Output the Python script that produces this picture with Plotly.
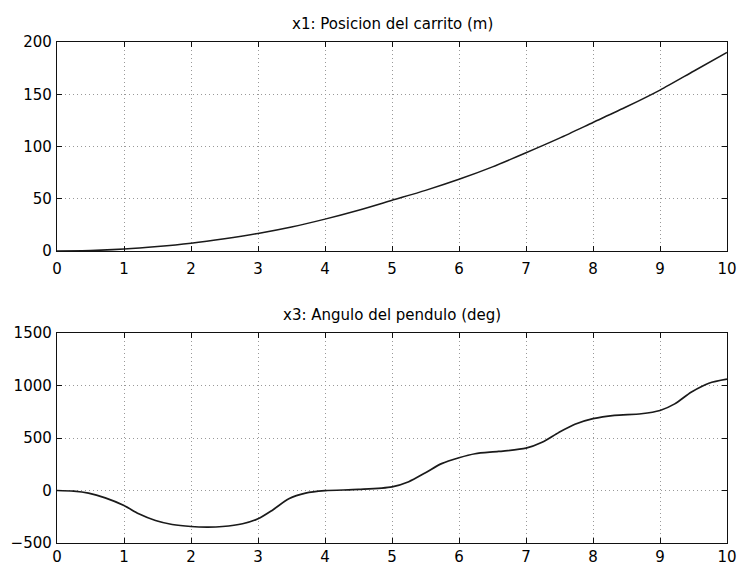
import plotly.graph_objects as go

# Cart position x1 (m) over time (s)
t_pos = [0, 0.5, 1, 1.5, 2, 2.5, 3, 3.5, 4, 4.5, 5, 5.5, 6, 6.5, 7, 7.5, 8, 8.5, 9, 9.5, 10]
x1_pos = [0, 0.4, 1.8, 4.2, 7.4, 11.7, 16.8, 23, 30.5, 39, 48.5, 58, 68.6, 80.5, 94,
          108, 123, 138, 154, 172, 190]

# Pendulum angle x3 (deg) over time (s)
t_ang = [0, 0.25, 0.47, 0.72, 1, 1.22, 1.47, 1.72, 2, 2.25, 2.47, 2.77, 3, 3.21, 3.46,
         3.71, 4, 4.5, 5, 5.25, 5.5, 5.74, 6, 6.24, 6.59, 7, 7.24, 7.49, 7.73, 8, 8.32,
         8.72, 9, 9.22, 9.47, 9.73, 10]
x3_ang = [0, -6, -25, -70, -143, -222, -286, -324, -343, -348, -343, -317, -270, -190,
          -79, -25, -2, 10, 35, 84, 169, 256, 312, 350, 372, 403, 459, 553, 631, 684,
          716, 731, 762, 825, 938, 1022, 1060]

titles = ["x1: Posicion del carrito (m)", "x3: Angulo del pendulo (deg)"]
x_ticks = list(range(0, 11))
y1_ticks = [0, 50, 100, 150, 200]
y3_ticks = [-500, 0, 500, 1000, 1500]

W, H = 739, 566
FONT = "DejaVu Sans"

fig = go.Figure()
fig.add_trace(go.Scatter(x=t_pos, y=x1_pos, mode="lines", xaxis="x", yaxis="y",
                         line=dict(color="#1a1a1a", width=1.5, shape="spline", smoothing=0.7),
                         cliponaxis=False, showlegend=False))
fig.add_trace(go.Scatter(x=t_ang, y=x3_ang, mode="lines", xaxis="x2", yaxis="y2",
                         line=dict(color="#1a1a1a", width=1.7, shape="spline", smoothing=0.8),
                         cliponaxis=False, showlegend=False))

left, right = 57, 727
def xdom():
    return [left / W, right / W]
def ydom(top_px, bot_px):
    return [(H - bot_px) / H, (H - top_px) / H]

axis_common = dict(
    showline=True, linecolor="#111", linewidth=1.4, mirror="ticks",
    ticks="inside", ticklen=5, tickwidth=1.3, tickcolor="#111",
    showgrid=True, gridcolor="#999999", griddash="1px,3px", gridwidth=1,
    zeroline=False, tickfont=dict(family=FONT, size=15, color="#000"),
)

fig.update_layout(
    width=W, height=H,
    margin=dict(l=0, r=0, t=0, b=0, autoexpand=False),
    paper_bgcolor="white", plot_bgcolor="white",
    xaxis=dict(domain=xdom(), range=[0, 10], tickvals=x_ticks, anchor="y",
               ticklabelstandoff=4, **axis_common),
    yaxis=dict(domain=ydom(42, 251), range=[0, 200], tickvals=y1_ticks, anchor="x",
               ticklabelstandoff=1, **axis_common),
    xaxis2=dict(domain=xdom(), range=[0, 10], tickvals=x_ticks, anchor="y2",
                ticklabelstandoff=0, **axis_common),
    yaxis2=dict(domain=ydom(333, 543), range=[-500, 1500], tickvals=y3_ticks, anchor="x2",
                ticklabelstandoff=1, **axis_common),
    annotations=[
        dict(text=titles[0], x=392 / W, y=(H - 24) / H, xref="paper", yref="paper",
             xanchor="center", yanchor="middle", showarrow=False,
             font=dict(family=FONT, size=15, color="#000")),
        dict(text=titles[1], x=392 / W, y=(H - 315) / H, xref="paper", yref="paper",
             xanchor="center", yanchor="middle", showarrow=False,
             font=dict(family=FONT, size=15, color="#000")),
    ],
)

fig.write_html("out.html")
